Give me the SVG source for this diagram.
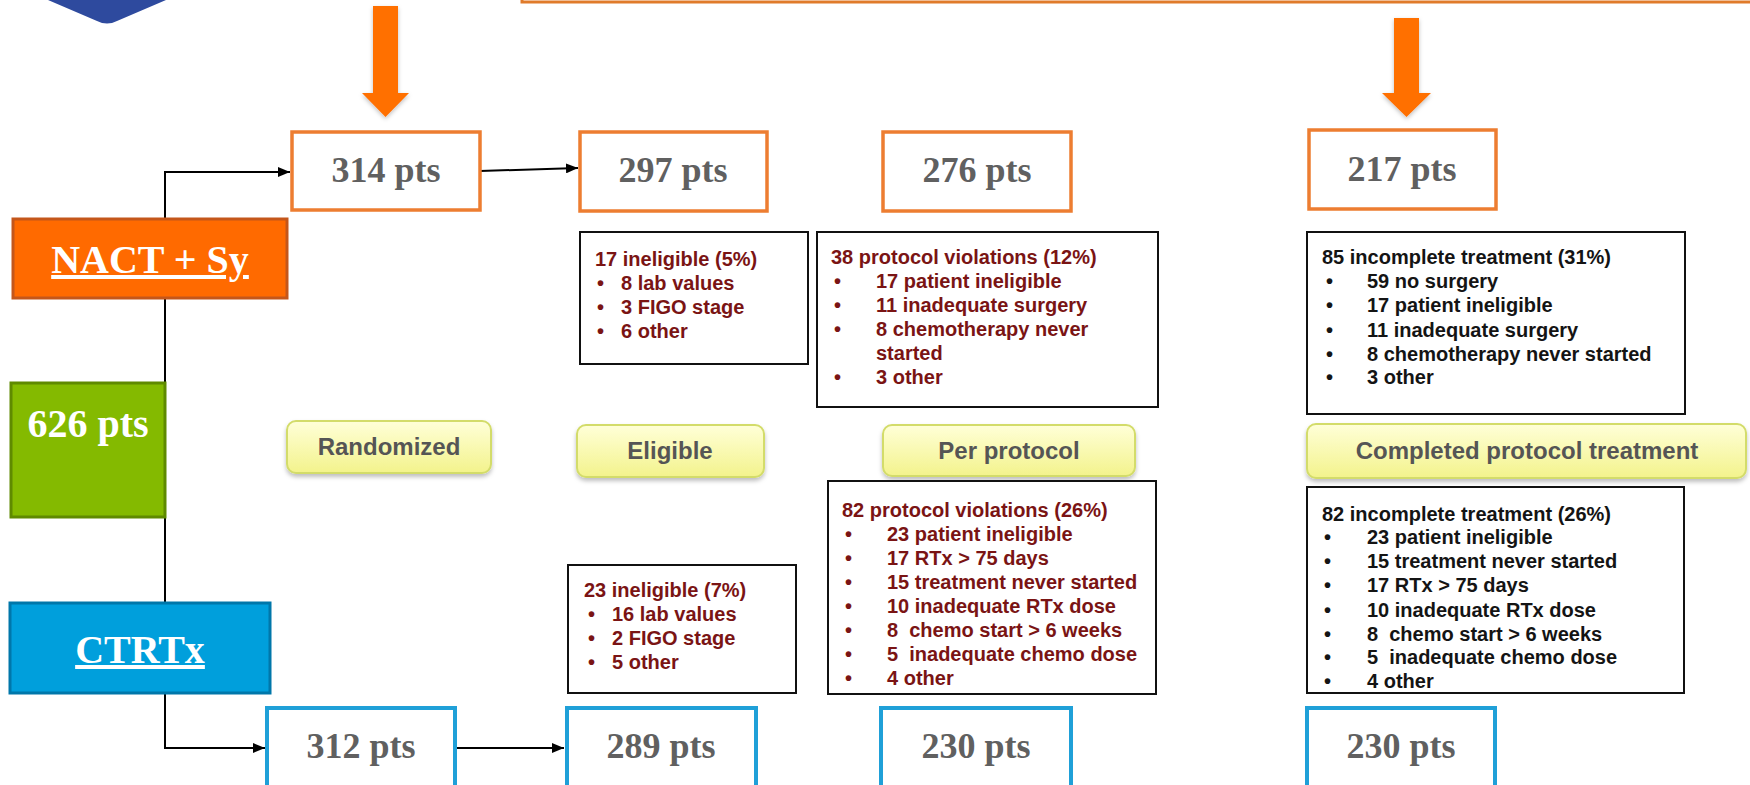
<svg xmlns="http://www.w3.org/2000/svg" width="1750" height="785" viewBox="0 0 1750 785">
<defs>
<style>
.pts{font-family:"Liberation Serif","Times New Roman",serif;font-weight:bold;font-size:36px;fill:#606060;text-anchor:middle}
.arm{font-family:"Liberation Serif","Times New Roman",serif;font-weight:bold;font-size:40px;fill:#ffffff;text-anchor:middle}
.ob{fill:#ffffff;stroke:#ED7D31;stroke-width:3.5}
.bb{fill:#ffffff;stroke:#1FA0D8;stroke-width:4}
.nb{fill:#ffffff;stroke:#111111;stroke-width:2}
.t{font-family:"Liberation Sans",Arial,sans-serif;font-weight:bold;font-size:20px}
.red{fill:#7A1414}
.blk{fill:#141414}
.pill{fill:url(#pg);stroke:#D3DC6A;stroke-width:2;filter:url(#sh)}
.pt{font-family:"Liberation Sans",Arial,sans-serif;font-weight:bold;font-size:24px;fill:#555555;text-anchor:middle}
.con{fill:none;stroke:#000000;stroke-width:2}
.big{fill:#FF6F00;filter:url(#sh2)}
</style>
<linearGradient id="pg" x1="0" y1="0" x2="0" y2="1">
<stop offset="0" stop-color="#FFFFD8"/>
<stop offset="1" stop-color="#F3F38C"/>
</linearGradient>
<filter id="sh" x="-10%" y="-20%" width="120%" height="160%">
<feDropShadow dx="0" dy="3" stdDeviation="2" flood-color="#000000" flood-opacity="0.25"/>
</filter>
<filter id="sh2" x="-30%" y="-10%" width="160%" height="130%">
<feDropShadow dx="0" dy="2" stdDeviation="2" flood-color="#000000" flood-opacity="0.25"/>
</filter>
<marker id="ah" markerUnits="userSpaceOnUse" markerWidth="12" markerHeight="10" refX="12" refY="5" orient="auto">
<path d="M0,0 L12,5 L0,10 Z" fill="#000000"/>
</marker>
</defs>
<rect width="1750" height="785" fill="#ffffff"/>

<g id="header">
<path d="M48,0 L97,21 Q107,26 117,21 L166,0 Z" fill="#2E4A9E"/>
<rect x="522" y="-30" width="1240" height="32" fill="#ffffff" stroke="#E07B2A" stroke-width="3"/>
<polygon class="big" points="373,6 398,6 398,93 409,93 385.5,117 362,93 373,93"/>
<polygon class="big" points="1394,18 1419,18 1419,93 1431,93 1406.5,117 1382,93 1394,93"/>
</g>

<g id="connectors">
<path class="con" d="M165,219 V172 H290" marker-end="url(#ah)"/>
<path class="con" d="M165,298 V603"/>
<path class="con" d="M165,693 V748 H265" marker-end="url(#ah)"/>
<path class="con" d="M480,171 L578,168" marker-end="url(#ah)"/>
<path class="con" d="M455,748 H564" marker-end="url(#ah)"/>
</g>

<g id="nact">
<rect x="13" y="219" width="274" height="79" fill="#FF6A00" stroke="#C4561A" stroke-width="3"/>
<text class="arm" x="150" y="273" text-decoration="underline">NACT + Sy</text>
</g>
<g id="total">
<rect x="11" y="383" width="154" height="134" fill="#84BA00" stroke="#5F8A00" stroke-width="3"/>
<text class="arm" x="88" y="437">626 pts</text>
</g>
<g id="ctrtx">
<rect x="10" y="603" width="260" height="90" fill="#009FDC" stroke="#0077AA" stroke-width="3"/>
<text class="arm" x="140" y="663" text-decoration="underline">CTRTx</text>
</g>

<g id="n314"><rect class="ob" x="292" y="132" width="188" height="78"/><text class="pts" x="386" y="182">314 pts</text></g>
<g id="n297"><rect class="ob" x="580" y="132" width="187" height="79"/><text class="pts" x="673" y="182">297 pts</text></g>
<g id="n276"><rect class="ob" x="883" y="132" width="188" height="79"/><text class="pts" x="977" y="182">276 pts</text></g>
<g id="n217"><rect class="ob" x="1309" y="130" width="187" height="79"/><text class="pts" x="1402" y="181">217 pts</text></g>

<g id="n312"><rect class="bb" x="267" y="708" width="188" height="100"/><text class="pts" x="361" y="758">312 pts</text></g>
<g id="n289"><rect class="bb" x="567" y="708" width="189" height="100"/><text class="pts" x="661" y="758">289 pts</text></g>
<g id="n230a"><rect class="bb" x="881" y="708" width="190" height="100"/><text class="pts" x="976" y="758">230 pts</text></g>
<g id="n230b"><rect class="bb" x="1307" y="708" width="188" height="100"/><text class="pts" x="1401" y="758">230 pts</text></g>

<g id="p-rand"><rect class="pill" x="287" y="421" width="204" height="52" rx="9"/><text class="pt" x="389" y="455">Randomized</text></g>
<g id="p-elig"><rect class="pill" x="577" y="425" width="187" height="52" rx="9"/><text class="pt" x="670" y="459">Eligible</text></g>
<g id="p-pp"><rect class="pill" x="883" y="425" width="252" height="51" rx="9"/><text class="pt" x="1009" y="459">Per protocol</text></g>
<g id="p-comp"><rect class="pill" x="1307" y="424" width="439" height="54" rx="9"/><text class="pt" x="1527" y="459">Completed protocol treatment</text></g>

<g id="b-inel-a">
<rect class="nb" x="580" y="232" width="228" height="132"/>
<text class="t red" x="595" y="266">17 ineligible (5%)</text>
<text class="t red" x="597" y="290">•</text><text class="t red" x="621" y="290">8 lab values</text>
<text class="t red" x="597" y="314">•</text><text class="t red" x="621" y="314">3 FIGO stage</text>
<text class="t red" x="597" y="338">•</text><text class="t red" x="621" y="338">6 other</text>
</g>

<g id="b-pv-a">
<rect class="nb" x="817" y="232" width="341" height="175"/>
<text class="t red" x="831" y="264">38 protocol violations (12%)</text>
<text class="t red" x="834" y="288">•</text><text class="t red" x="876" y="288">17 patient ineligible</text>
<text class="t red" x="834" y="312">•</text><text class="t red" x="876" y="312">11 inadequate surgery</text>
<text class="t red" x="834" y="336">•</text><text class="t red" x="876" y="336">8 chemotherapy never</text>
<text class="t red" x="876" y="360">started</text>
<text class="t red" x="834" y="384">•</text><text class="t red" x="876" y="384">3 other</text>
</g>

<g id="b-inc-a">
<rect class="nb" x="1307" y="232" width="378" height="182"/>
<text class="t blk" x="1322" y="264">85 incomplete treatment (31%)</text>
<text class="t blk" x="1326" y="288">•</text><text class="t blk" x="1367" y="288">59 no surgery</text>
<text class="t blk" x="1326" y="312">•</text><text class="t blk" x="1367" y="312">17 patient ineligible</text>
<text class="t blk" x="1326" y="337">•</text><text class="t blk" x="1367" y="337">11 inadequate surgery</text>
<text class="t blk" x="1326" y="361">•</text><text class="t blk" x="1367" y="361">8 chemotherapy never started</text>
<text class="t blk" x="1326" y="384">•</text><text class="t blk" x="1367" y="384">3 other</text>
</g>

<g id="b-inel-b">
<rect class="nb" x="568" y="565" width="228" height="128"/>
<text class="t red" x="584" y="597">23 ineligible (7%)</text>
<text class="t red" x="588" y="621">•</text><text class="t red" x="612" y="621">16 lab values</text>
<text class="t red" x="588" y="645">•</text><text class="t red" x="612" y="645">2 FIGO stage</text>
<text class="t red" x="588" y="669">•</text><text class="t red" x="612" y="669">5 other</text>
</g>

<g id="b-pv-b">
<rect class="nb" x="828" y="481" width="328" height="213"/>
<text class="t red" x="842" y="517">82 protocol violations (26%)</text>
<text class="t red" x="845" y="541">•</text><text class="t red" x="887" y="541">23 patient ineligible</text>
<text class="t red" x="845" y="565">•</text><text class="t red" x="887" y="565">17 RTx &gt; 75 days</text>
<text class="t red" x="845" y="589">•</text><text class="t red" x="887" y="589">15 treatment never started</text>
<text class="t red" x="845" y="613">•</text><text class="t red" x="887" y="613">10 inadequate RTx dose</text>
<text class="t red" x="845" y="637">•</text><text class="t red" x="887" y="637">8&#160; chemo start &gt; 6 weeks</text>
<text class="t red" x="845" y="661">•</text><text class="t red" x="887" y="661">5&#160; inadequate chemo dose</text>
<text class="t red" x="845" y="685">•</text><text class="t red" x="887" y="685">4 other</text>
</g>

<g id="b-inc-b">
<rect class="nb" x="1307" y="487" width="377" height="206"/>
<text class="t blk" x="1322" y="521">82 incomplete treatment (26%)</text>
<text class="t blk" x="1324" y="544">•</text><text class="t blk" x="1367" y="544">23 patient ineligible</text>
<text class="t blk" x="1324" y="568">•</text><text class="t blk" x="1367" y="568">15 treatment never started</text>
<text class="t blk" x="1324" y="592">•</text><text class="t blk" x="1367" y="592">17 RTx &gt; 75 days</text>
<text class="t blk" x="1324" y="617">•</text><text class="t blk" x="1367" y="617">10 inadequate RTx dose</text>
<text class="t blk" x="1324" y="641">•</text><text class="t blk" x="1367" y="641">8&#160; chemo start &gt; 6 weeks</text>
<text class="t blk" x="1324" y="664">•</text><text class="t blk" x="1367" y="664">5&#160; inadequate chemo dose</text>
<text class="t blk" x="1324" y="688">•</text><text class="t blk" x="1367" y="688">4 other</text>
</g>
</svg>
